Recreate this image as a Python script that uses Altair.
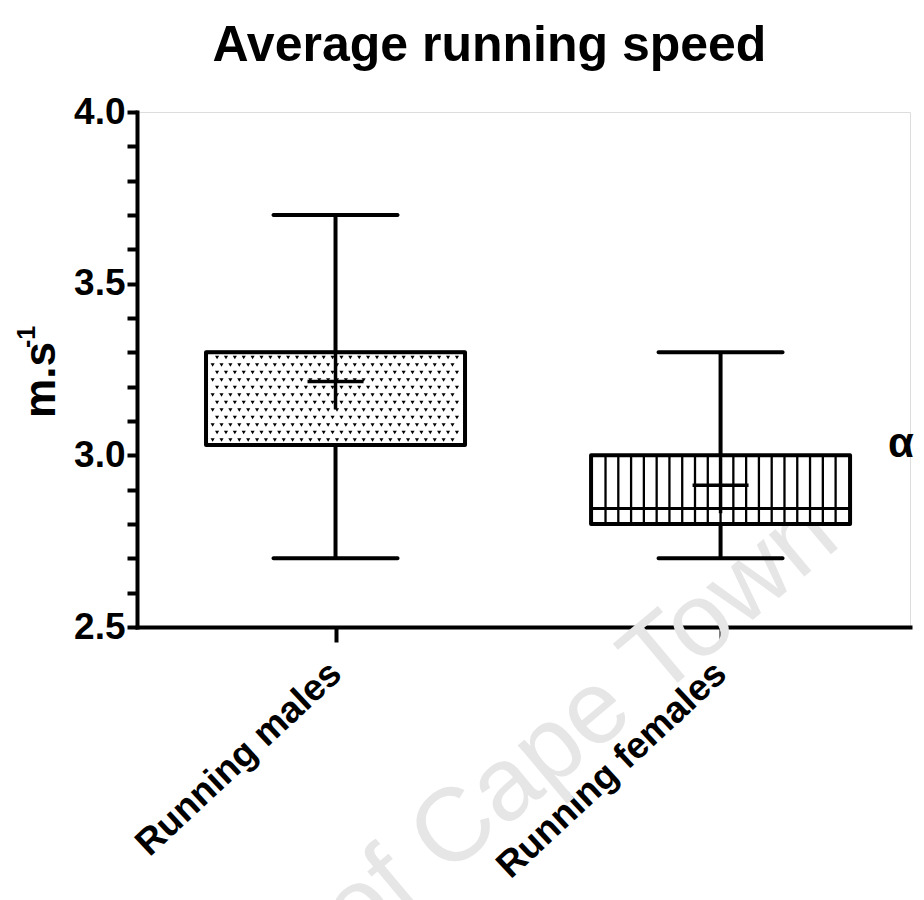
import altair as alt
import pandas as pd

# ---- data ----
categories = ["Running males", "Running females"]
mins = [2.70, 2.70]
q1s = [3.03, 2.80]
medians = [3.30, 2.845]
q3s = [3.30, 3.00]
maxs = [3.70, 3.30]
means = [3.215, 2.913]
y_ticks = [round(2.5 + 0.1 * i, 1) for i in range(16)]

# ---- layout ----
W, H = 773, 515
X_DOMAIN = [-0.5026, 1.479]
Y_DOMAIN = [2.5, 4.0]
XPX = W / (X_DOMAIN[1] - X_DOMAIN[0])   # px per x unit
YPX = H / (Y_DOMAIN[1] - Y_DOMAIN[0])   # px per y unit
BOX_PX = 259
HW = BOX_PX / 2 / XPX
FONT = "Liberation Sans"

df = pd.DataFrame({
    "idx": list(range(len(categories))),
    "cat": categories,
    "lo": mins, "q1": q1s, "med": medians, "q3": q3s, "hi": maxs, "mean": means,
})

# male stipple pattern (decoration derived from the box bounds)
pts = []
i = 0
yy = q1s[0] + 5 / YPX
while yy < q3s[0] - 4 / YPX:
    off = (i % 2) * 4.5
    xx = -HW + (5 + off) / XPX
    while xx < HW - 4 / XPX:
        pts.append({"x": 0 + xx, "y": yy})
        xx += 9 / XPX
    yy += 7.5 / YPX
    i += 1
dots = pd.DataFrame(pts)

# female vertical stripes
stripes = pd.DataFrame({
    "x": [1 - HW + j * (2 * HW / 20) for j in range(1, 20)],
    "y": [q1s[1]] * 19, "y2": [q3s[1]] * 19,
})

xs = alt.Scale(domain=X_DOMAIN, nice=False, zero=False)
ys = alt.Scale(domain=Y_DOMAIN, nice=False, zero=False)

x_axis = alt.Axis(
    values=[0, 1],
    labelExpr="['Running males','Running females'][datum.value]",
    title=None, grid=False, domainWidth=4, domainColor="black", domainCap="square",
    tickWidth=4, tickColor="black", tickSize=15,
    labelAngle=-43, labelAlign="right", labelBaseline="middle",
    labelFont=FONT, labelFontWeight="bold", labelFontSize=37, labelColor="black",
    labelPadding=26, labelOverlap=False, labelFlush=False, labelBound=False,
    labelLimit=600,
)
y_axis = alt.Axis(
    values=y_ticks,
    labelExpr="abs(datum.value*2 - round(datum.value*2)) < 0.01 ? format(datum.value, '.1f') : ''",
    title=None,
    grid=False, domainWidth=4, domainColor="black", domainCap="square",
    tickWidth=4, tickColor="black", tickSize=10,
    labelFont=FONT, labelFontWeight="bold", labelFontSize=37, labelColor="black",
    labelPadding=2, labelOverlap=False, labelFlush=False, labelLimit=300,
)


def X(field):
    return alt.X(field, type="quantitative", scale=xs, axis=x_axis)


def Y(field):
    return alt.Y(field, type="quantitative", scale=ys, axis=y_axis)


base = alt.Chart(df)

whisk = base.mark_rule(color="black", strokeWidth=4).encode(
    x=X("idx"), y=Y("lo"), y2="hi:Q")
caps_hi = base.mark_tick(orient="horizontal", size=128, thickness=4, color="black",
                         cornerRadius=2, opacity=1).encode(x=X("idx"), y=Y("hi"))
caps_lo = base.mark_tick(orient="horizontal", size=128, thickness=4, color="black",
                         cornerRadius=2, opacity=1).encode(x=X("idx"), y=Y("lo"))

box_fill = base.mark_bar(size=BOX_PX, fill="white").encode(
    x=X("idx"), y=Y("q1"), y2="q3:Q")

dot_layer = alt.Chart(dots).mark_point(shape="triangle-down", filled=True, size=17,
                                       color="black", opacity=1).encode(
    x=X("x"), y=Y("y"))

stripe_layer = alt.Chart(stripes).mark_rule(color="black", strokeWidth=2.3).encode(
    x=X("x"), y=Y("y"), y2="y2:Q")

median = base.mark_tick(orient="horizontal", size=BOX_PX, thickness=3, color="black",
                        opacity=1).encode(x=X("idx"), y=Y("med"))

box_border = base.mark_bar(size=BOX_PX, fillOpacity=0, stroke="black",
                           strokeWidth=4, strokeJoin="round").encode(
    x=X("idx"), y=Y("q1"), y2="q3:Q")

plus_h = base.mark_tick(orient="horizontal", size=56, thickness=3.5, color="black",
                        opacity=1).encode(x=X("idx"), y=Y("mean"))
plus_v = base.mark_tick(orient="vertical", size=56, thickness=3.5, color="black",
                        opacity=1).encode(x=X("idx"), y=Y("mean"))

# ---- annotations ----
watermark = alt.Chart(pd.DataFrame({"t": ["University of Cape Town"]})).mark_text(
    font=FONT, fontSize=104, color="#e6e6e6", angle=320, align="right",
    baseline="alphabetic",
).encode(text="t:N", x=alt.value(706), y=alt.value(432))

ytitle = alt.Chart(pd.DataFrame({"t": ["m.s"]})).mark_text(
    font="'Liberation Sans Narrow', 'Liberation Sans'", fontSize=44,
    fontWeight="bold", color="black", angle=270, align="center",
    baseline="alphabetic",
).encode(text="t:N", x=alt.value(-82), y=alt.value(268))

ysup = alt.Chart(pd.DataFrame({"t": ["-1"]})).mark_text(
    font=FONT, fontSize=25, fontWeight="bold", color="black", angle=270,
    align="left", baseline="alphabetic",
).encode(text="t:N", x=alt.value(-102), y=alt.value(236))

alpha = alt.Chart(pd.DataFrame({"t": ["α"]})).mark_text(
    font=FONT, fontSize=42, fontWeight="bold", color="black", align="left",
    baseline="alphabetic",
).encode(text="t:N", x=alt.value(751), y=alt.value(345))

chart = alt.layer(
    watermark, whisk, caps_hi, caps_lo, box_fill, dot_layer, stripe_layer,
    median, box_border, plus_h, plus_v, ytitle, ysup, alpha,
).properties(
    width=W, height=H,
    autosize=alt.AutoSizeParams(type="none"),
    padding={"left": 137, "top": 112, "right": 14, "bottom": 273},
    title=alt.TitleParams("Average running speed", font=FONT, fontSize=50,
                          fontWeight="bold", color="black", anchor="middle",
                          dx=-34, offset=22),
).configure_view(stroke=None).configure(background="white")

chart.save("out.html", embed_options={"renderer": "svg", "actions": False})
